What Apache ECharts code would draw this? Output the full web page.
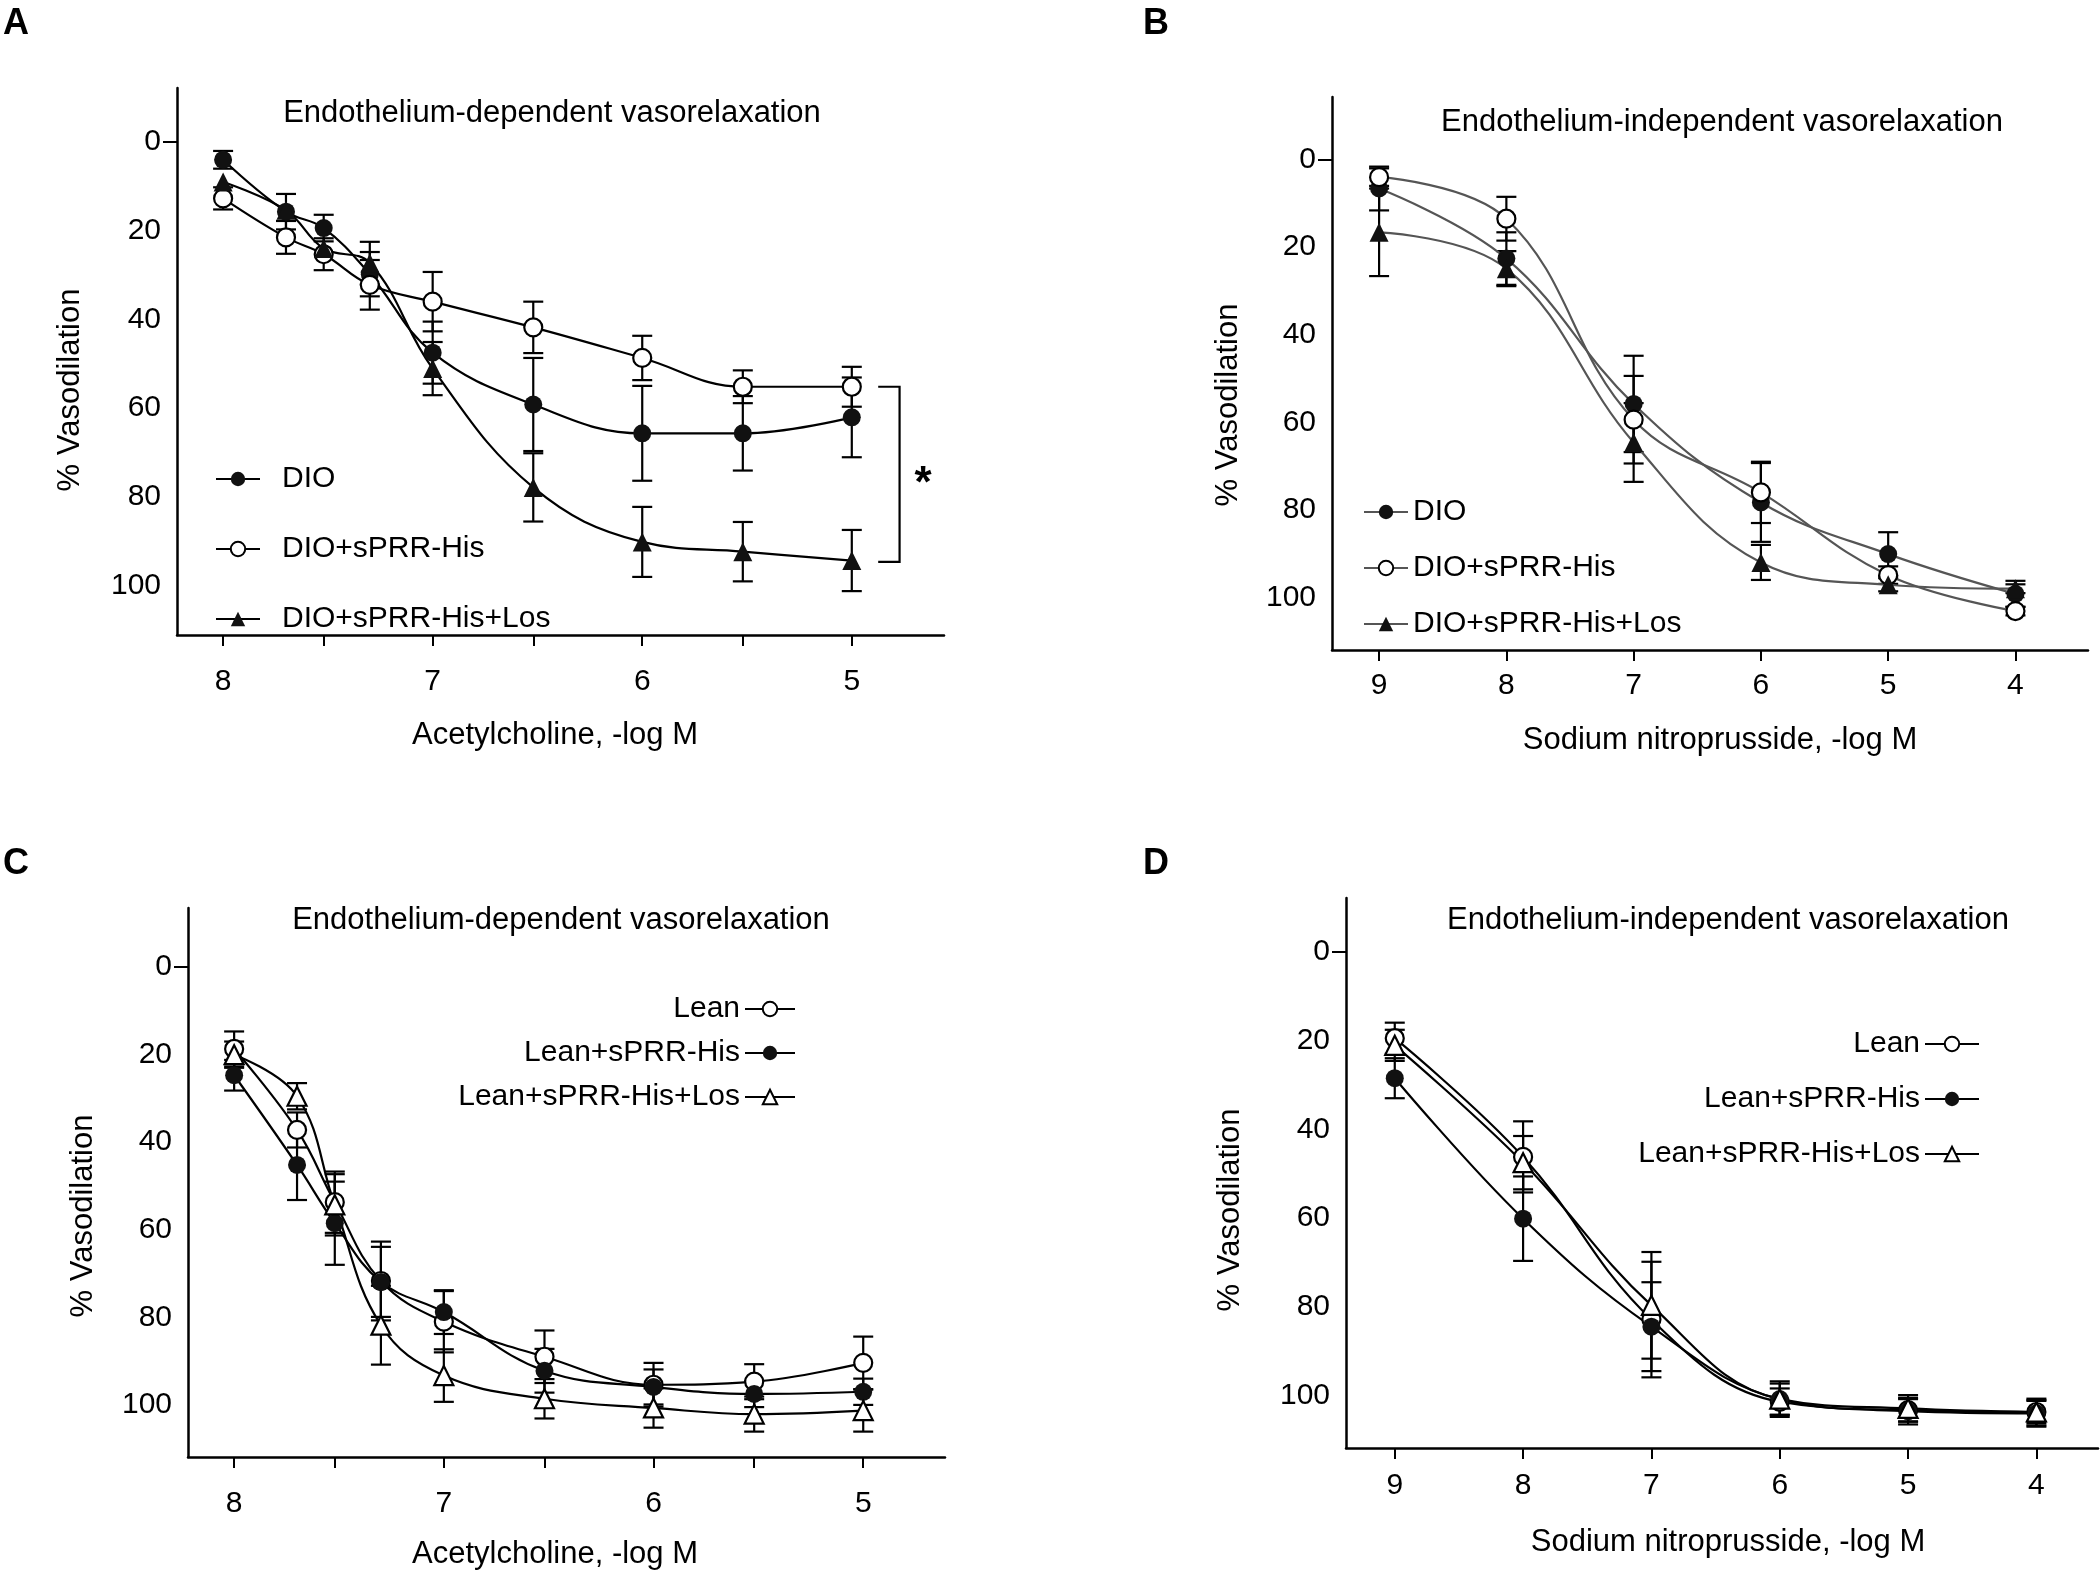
<!DOCTYPE html>
<html>
<head>
<meta charset="utf-8">
<script src="https://cdn.jsdelivr.net/npm/echarts@6/dist/echarts.min.js"></script>
<style>
  html, body { margin: 0; background: #fff; }
  #chart { width: 2100px; height: 1572px; }
</style>
</head>
<body>
<div id="chart"></div>
<script>
// A: endothelium-dependent, DIO groups (acetylcholine, -log M)
const xA = [8, 7.7, 7.52, 7.3, 7, 6.52, 6, 5.52, 5]
const aDIO = [4, 15.7, 19.4, 29.8, 47.5, 59.2, 65.7, 65.7, 62.1]
const aDIOErr = [2, 4, 3, 5, 7, 10.5, 10.7, 8.4, 9]
const aHis = [12.7, 21.5, 25.3, 32.2, 36, 41.8, 48.7, 55.2, 55.2]
const aHisErr = [2.5, 3.7, 3.6, 5.6, 6.7, 5.8, 5, 3.7, 4.5]
const aLos = [9, 15.4, 24, 27.3, 51.1, 77.9, 90.2, 92.4, 94.4]
const aLosErr = [0, 0, 0, 4.8, 6, 7.7, 7.9, 6.7, 6.9]
const aBracketX = [4.874, 4.772]
const aBracketY = [55.2, 94.7]

// B: endothelium-independent, DIO groups (sodium nitroprusside, -log M)
const xB = [9, 8, 7, 6, 5, 4]
const bDIO = [6.6, 22.6, 55.8, 78.3, 90.1, 99.2]
const bDIOErr = [5, 6, 11, 9, 5, 3]
const bHis = [4, 13.5, 59.4, 76, 94.9, 103.1]
const bHisErr = [2, 5, 10, 7, 2, 1]
const bLos = [16.6, 24.9, 64.6, 92, 97.1, 98]
const bLosErr = [10, 4, 9, 4, 1.5, 1]

// C: endothelium-dependent, lean groups
const xC = [8, 7.7, 7.52, 7.3, 7, 6.52, 6, 5.52, 5]
const cLean = [18.7, 37.2, 53.7, 71.7, 81, 89, 95.4, 94.7, 90.4]
const cLeanErr = [4, 4, 7, 9, 7, 6, 5, 4, 6]
const cHis = [24.7, 45.2, 58.5, 71.9, 78.8, 92.2, 95.9, 97.5, 97]
const cHisErr = [3.5, 8, 9.5, 8, 5, 5, 4, 3, 3]
const cLos = [20, 29.5, 54.3, 81.8, 93.3, 98.6, 100.7, 102.1, 101.3]
const cLosErr = [3, 3, 7, 9, 6, 4.5, 4.5, 4, 4.8]

// D: endothelium-independent, lean groups
const xD = [9, 8, 7, 6, 5, 4]
const dLean = [19.5, 46.2, 82.8, 101.3, 103.2, 103.6]
const dLeanErr = [3.5, 8, 13, 3, 2.5, 2.5]
const dHis = [28.5, 60.1, 84.4, 100.7, 103.4, 103.9]
const dHisErr = [4.5, 9.5, 10, 4, 3, 3]
const dLos = [21.1, 47.5, 79.6, 100.7, 102.8, 103.6]
const dLosErr = [3.5, 6, 12, 3.5, 3, 3]

const yLabels = [0, 20, 40, 60, 80, 100]
const achLabels = [5, 6, 7, 8]
const achTicks = [5, 5.52, 6, 6.52, 7, 7.52, 8]
const snpLabels = [4, 5, 6, 7, 8, 9]

const FONT = '"Liberation Sans", Arial, sans-serif'

const chart = echarts.init(document.getElementById('chart'))

const grids = [
    { left: 177, top: 88, width: 767, height: 547 },
    { left: 1332, top: 97, width: 756, height: 553 },
    { left: 188, top: 908, width: 757, height: 549 },
    { left: 1346, top: 898, width: 752, height: 550 }
]
const xRange = [[4.56, 8.22], [3.43, 9.37], [4.61, 8.22], [3.52, 9.38]]
const yRange = [[-12.2, 111.2], [-14.3, 112], [-13.5, 111.9], [-12.05, 111.7]]
const xMargin = [32, 21, 32, 23]
const xLab = [achLabels, snpLabels, achLabels, snpLabels]
const xTck = [achTicks, snpLabels, achTicks, snpLabels]

const axisLine = { onZero: false, lineStyle: { color: '#000', width: 2.5 } }

const xAxis = grids.map((g, i) => ({
    type: 'value', gridIndex: i, inverse: true, position: 'bottom',
    min: xRange[i][0], max: xRange[i][1],
    axisLine: axisLine,
    axisTick: { show: true, length: 11, customValues: xTck[i], lineStyle: { color: '#000', width: 2 } },
    axisLabel: { customValues: xLab[i], margin: xMargin[i], color: '#000', fontSize: 30, fontFamily: FONT },
    splitLine: { show: false }
}))
const yAxis = grids.map((g, i) => ({
    type: 'value', gridIndex: i, inverse: true, position: 'left',
    min: yRange[i][0], max: yRange[i][1],
    axisLine: axisLine,
    axisTick: { show: true, length: 14, customValues: [0], lineStyle: { color: '#000', width: 2 } },
    axisLabel: { customValues: yLabels, margin: 16, color: '#000', fontSize: 30, fontFamily: FONT },
    splitLine: { show: false }
}))

function zip(xs, ys) { return xs.map((x, k) => [x, ys[k]]) }

function lineSeries(name, idx, xs, ys, symbol, open, color) {
    return {
        type: 'line', name: name, xAxisIndex: idx, yAxisIndex: idx,
        data: zip(xs, ys), smooth: 0.4, symbol: symbol, symbolSize: symbol === 'triangle' ? 19 : 18,
        lineStyle: { color: color, width: 2.2 },
        itemStyle: open ? { color: '#fff', borderColor: '#000', borderWidth: 2.2 } : { color: '#111' },
        z: 3, animation: false
    }
}

function errSeries(idx, xs, ys, es) {
    return {
        type: 'custom', xAxisIndex: idx, yAxisIndex: idx, z: 2, silent: true, animation: false,
        data: xs.map((x, k) => [x, ys[k], es[k]]),
        renderItem: (params, api) => {
            const e = api.value(2)
            if (!e) return null
            const p1 = api.coord([api.value(0), api.value(1) - e])
            const p2 = api.coord([api.value(0), api.value(1) + e])
            const w = 10
            const st = { stroke: '#000', lineWidth: 2.2 }
            return {
                type: 'group', children: [
                    { type: 'line', shape: { x1: p1[0], y1: p1[1], x2: p2[0], y2: p2[1] }, style: st },
                    { type: 'line', shape: { x1: p1[0] - w, y1: p1[1], x2: p1[0] + w, y2: p1[1] }, style: st },
                    { type: 'line', shape: { x1: p2[0] - w, y1: p2[1], x2: p2[0] + w, y2: p2[1] }, style: st }
                ]
            }
        }
    }
}

const series = [
    errSeries(0, xA, aDIO, aDIOErr), errSeries(0, xA, aHis, aHisErr), errSeries(0, xA, aLos, aLosErr),
    lineSeries('DIO', 0, xA, aDIO, 'circle', false, '#000'),
    lineSeries('DIO+sPRR-His', 0, xA, aHis, 'circle', true, '#000'),
    lineSeries('DIO+sPRR-His+Los', 0, xA, aLos, 'triangle', false, '#000'),

    errSeries(1, xB, bDIO, bDIOErr), errSeries(1, xB, bHis, bHisErr), errSeries(1, xB, bLos, bLosErr),
    lineSeries('DIO ', 1, xB, bDIO, 'circle', false, '#555'),
    lineSeries('DIO+sPRR-His ', 1, xB, bHis, 'circle', true, '#555'),
    lineSeries('DIO+sPRR-His+Los ', 1, xB, bLos, 'triangle', false, '#555'),

    errSeries(2, xC, cLean, cLeanErr), errSeries(2, xC, cHis, cHisErr), errSeries(2, xC, cLos, cLosErr),
    lineSeries('Lean', 2, xC, cLean, 'circle', true, '#000'),
    lineSeries('Lean+sPRR-His', 2, xC, cHis, 'circle', false, '#000'),
    lineSeries('Lean+sPRR-His+Los', 2, xC, cLos, 'triangle', true, '#000'),

    errSeries(3, xD, dLean, dLeanErr), errSeries(3, xD, dHis, dHisErr), errSeries(3, xD, dLos, dLosErr),
    lineSeries('Lean ', 3, xD, dLean, 'circle', true, '#000'),
    lineSeries('Lean+sPRR-His ', 3, xD, dHis, 'circle', false, '#000'),
    lineSeries('Lean+sPRR-His+Los ', 3, xD, dLos, 'triangle', true, '#000'),

    // significance bracket in panel A
    {
        type: 'custom', xAxisIndex: 0, yAxisIndex: 0, silent: true, animation: false,
        data: [[aBracketX[0], aBracketY[0], aBracketX[1], aBracketY[1]]],
        renderItem: (params, api) => {
            const a = api.coord([api.value(0), api.value(1)])
            const b = api.coord([api.value(2), api.value(1)])
            const c = api.coord([api.value(2), api.value(3)])
            const d = api.coord([api.value(0), api.value(3)])
            return {
                type: 'polyline',
                shape: { points: [a, b, c, d] },
                style: { stroke: '#000', lineWidth: 2.2, fill: null }
            }
        }
    }
]

function legend(names, pos, opts) {
    return Object.assign({
        data: names, orient: 'vertical', itemWidth: 44, itemHeight: 18,
        selectedMode: false, formatter: n => n.trim(),
        textStyle: { fontSize: 30, fontFamily: FONT, color: '#000' }
    }, pos, opts)
}

const legends = [
    legend(['DIO', 'DIO+sPRR-His', 'DIO+sPRR-His+Los'], { left: 210, top: 459 },
        { itemGap: 40, textStyle: { fontSize: 30, fontFamily: FONT, color: '#000', padding: [0, 0, 0, 17] } }),
    legend(['DIO ', 'DIO+sPRR-His ', 'DIO+sPRR-His+Los '], { left: 1358, top: 492 }, { itemGap: 26 }),
    legend(['Lean', 'Lean+sPRR-His', 'Lean+sPRR-His+Los'], { right: 1299, top: 989 },
        { itemGap: 14, align: 'right', itemWidth: 50 }),
    legend(['Lean ', 'Lean+sPRR-His ', 'Lean+sPRR-His+Los '], { right: 115, top: 1024 },
        { itemGap: 25, align: 'right', itemWidth: 54 })
]

function txt(s, x, y, size, opts) {
    return Object.assign({
        type: 'text', x: x, y: y, silent: true,
        style: {
            text: s, font: (opts && opts.weight ? opts.weight + ' ' : '') + size + 'px ' + FONT,
            fill: '#000', align: 'center', verticalAlign: 'middle',
            textAlign: 'center', textVerticalAlign: 'middle'
        }
    }, opts && opts.rot ? { rotation: Math.PI / 2 } : {})
}

const graphic = [
    txt('A', 16, 24, 36, { weight: 'bold' }),
    txt('B', 1156, 24, 36, { weight: 'bold' }),
    txt('C', 16, 864, 36, { weight: 'bold' }),
    txt('D', 1156, 864, 36, { weight: 'bold' }),
    txt('Endothelium-dependent vasorelaxation', 552, 113, 31),
    txt('Endothelium-independent vasorelaxation', 1722, 122, 31),
    txt('Endothelium-dependent vasorelaxation', 561, 920, 31),
    txt('Endothelium-independent vasorelaxation', 1728, 920, 31),
    txt('Acetylcholine, -log M', 555, 735, 31),
    txt('Sodium nitroprusside, -log M', 1720, 740, 31),
    txt('Acetylcholine, -log M', 555, 1554, 31),
    txt('Sodium nitroprusside, -log M', 1728, 1542, 31),
    txt('% Vasodilation', 70, 390, 31, { rot: true }),
    txt('% Vasodilation', 1228, 405, 31, { rot: true }),
    txt('% Vasodilation', 83, 1216, 31, { rot: true }),
    txt('% Vasodilation', 1230, 1210, 31, { rot: true }),
    txt('*', 923, 485, 44, { weight: 'bold' })
]

chart.setOption({
    backgroundColor: '#fff',
    animation: false,
    grid: grids,
    xAxis: xAxis,
    yAxis: yAxis,
    legend: legends,
    series: series,
    graphic: graphic
})
</script>
</body>
</html>
